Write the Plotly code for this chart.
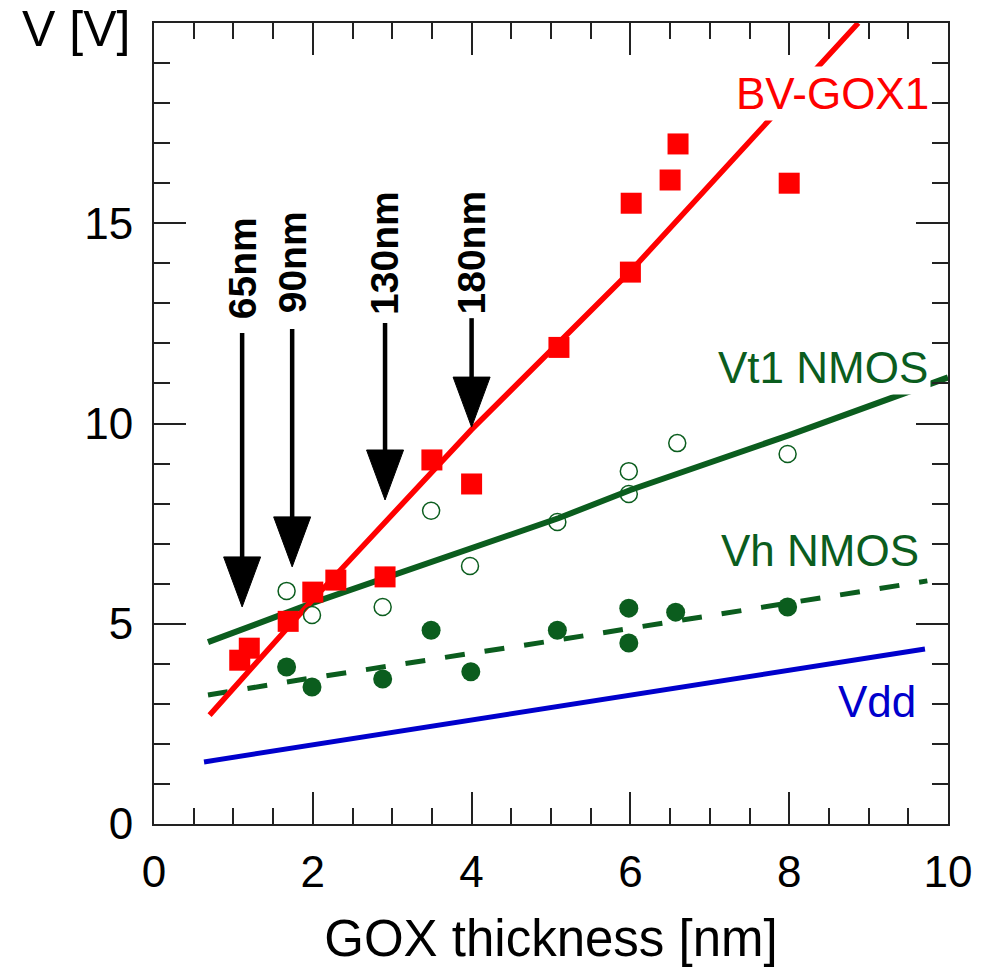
import plotly.graph_objects as go

FONT = "Liberation Sans, Arial, sans-serif"
RED = "#ff0000"
GREEN = "#0b5d1e"
BLUE = "#0000cc"

# ---- data ----
bv_x = [1.08, 1.20, 1.69, 2.00, 2.29, 2.91, 3.50, 4.00, 5.10, 6.00, 6.01, 6.50, 6.60, 8.00]
bv_y = [4.09, 4.39, 5.06, 5.79, 6.09, 6.17, 9.09, 8.49, 11.90, 13.78, 15.50, 16.08, 16.98, 16.00]
bv_fit_x = [0.70, 2.00, 4.00, 6.00, 8.87]
bv_fit_y = [2.72, 5.60, 9.85, 13.80, 20.00]

vt1_x = [1.67, 1.99, 2.88, 3.49, 3.98, 5.08, 5.98, 5.98, 6.59, 7.98]
vt1_y = [5.82, 5.22, 5.42, 7.82, 6.44, 7.54, 8.81, 8.24, 9.51, 9.24]
vt1_fit_x = [0.68, 2.00, 5.10, 6.00, 8.00, 10.00]
vt1_fit_y = [4.54, 5.52, 7.64, 8.34, 9.71, 11.15]

vh_x = [1.67, 1.99, 2.88, 3.49, 3.99, 5.08, 5.98, 5.98, 6.57, 7.98]
vh_y = [3.92, 3.42, 3.62, 4.84, 3.80, 4.84, 5.39, 4.52, 5.29, 5.42]
vh_fit_x = [0.68, 2.00, 5.10, 9.74]
vh_fit_y = [3.22, 3.65, 4.60, 6.07]

vdd_x = [0.63, 9.71]
vdd_y = [1.55, 4.37]

node_labels = ["65nm", "90nm", "130nm", "180nm"]
node_x = [1.11, 1.74, 2.91, 4.00]
node_tip = [5.42, 6.42, 8.09, 9.91]
node_tail = [12.26, 12.36, 12.51, 12.63]
node_text_y = [13.88, 14.03, 14.26, 14.26]

x_ticks = [0, 2, 4, 6, 8, 10]
y_ticks = [0, 5, 10, 15, 20]
y_ticktext = ["0", "5", "10", "15", ""]

# ---- layout geometry ----
W, H = 1007, 969
ML, MR, MT, MB = 154, 59, 23, 145
XR = [0, 10]
YR = [0, 20]
px_x = (XR[1] - XR[0]) / (W - ML - MR)
px_y = (YR[1] - YR[0]) / (H - MT - MB)
HEAD_LEN = 50 * px_y
HEAD_HALF = 18.5 * px_x

fig = go.Figure()

fig.add_trace(go.Scatter(x=vdd_x, y=vdd_y, mode="lines",
                         line=dict(color=BLUE, width=5), hoverinfo="skip"))
fig.add_trace(go.Scatter(x=vh_fit_x, y=vh_fit_y, mode="lines",
                         line=dict(color=GREEN, width=5, dash="20px,20px"), hoverinfo="skip"))
fig.add_trace(go.Scatter(x=vt1_fit_x, y=vt1_fit_y, mode="lines",
                         line=dict(color=GREEN, width=6), hoverinfo="skip"))
fig.add_trace(go.Scatter(x=bv_fit_x, y=bv_fit_y, mode="lines",
                         line=dict(color=RED, width=5.5), hoverinfo="skip"))
fig.add_trace(go.Scatter(x=vh_x, y=vh_y, mode="markers",
                         marker=dict(symbol="circle", size=19, color=GREEN, line=dict(width=0))))
fig.add_trace(go.Scatter(x=vt1_x, y=vt1_y, mode="markers",
                         marker=dict(symbol="circle-open", size=17, color=GREEN, line=dict(width=1.5))))
fig.add_trace(go.Scatter(x=bv_x, y=bv_y, mode="markers",
                         marker=dict(symbol="square", size=21, color=RED, line=dict(width=0))))

# arrows: shaft + filled head
for xv, tip, tail in zip(node_x, node_tip, node_tail):
    fig.add_trace(go.Scatter(x=[xv, xv], y=[tail, tip + HEAD_LEN * 0.9], mode="lines",
                             line=dict(color="black", width=4.5), hoverinfo="skip"))
    fig.add_trace(go.Scatter(x=[xv - HEAD_HALF, xv + HEAD_HALF, xv, xv - HEAD_HALF],
                             y=[tip + HEAD_LEN, tip + HEAD_LEN, tip, tip + HEAD_LEN],
                             mode="lines", fill="toself", fillcolor="black",
                             line=dict(color="black", width=1), hoverinfo="skip"))

annotations = []
for lab, xv, ty in zip(node_labels, node_x, node_text_y):
    annotations.append(dict(x=xv, y=ty, xref="x", yref="y", text="<b>%s</b>" % lab,
                            textangle=-90, showarrow=False, xanchor="center", yanchor="middle",
                            font=dict(family=FONT, size=39, color="black")))

series_labels = [
    ("BV-GOX1", 8.55, 18.23, RED),
    ("Vt1 NMOS", 8.43, 11.41, GREEN),
    ("Vh NMOS", 8.39, 6.82, GREEN),
    ("Vdd", 9.11, 3.07, BLUE),
]
for txt, xv, yv, col in series_labels:
    annotations.append(dict(x=xv, y=yv, xref="x", yref="y", text=txt, showarrow=False,
                            xanchor="center", yanchor="middle", bgcolor="white", borderpad=2,
                            font=dict(family=FONT, size=44, color=col)))

annotations.append(dict(x=-0.098, y=1.0287, xref="paper", yref="paper", text="V [V]",
                        showarrow=False, xanchor="center", yanchor="top", borderpad=0,
                        font=dict(family=FONT, size=50, color="black")))

axis_common = dict(showline=True, linecolor="#222222", linewidth=2, mirror="ticks",
                   ticks="inside", ticklen=32, tickwidth=1.5, tickcolor="#222222",
                   showgrid=False, zeroline=False, automargin=False,
                   tickfont=dict(family=FONT, size=44, color="black"))

fig.update_layout(
    width=W, height=H,
    margin=dict(l=ML, r=MR, t=MT, b=MB),
    paper_bgcolor="white", plot_bgcolor="white",
    showlegend=False,
    annotations=annotations,
    xaxis=dict(range=XR, tickvals=x_ticks, ticklabelstandoff=8,
               minor=dict(dtick=0.5, ticks="inside", ticklen=16, tickcolor="#222222", tickwidth=1.5),
               title=dict(text="GOX thickness [nm]", standoff=26,
                          font=dict(family=FONT, size=51, color="black")),
               **axis_common),
    yaxis=dict(range=YR, tickvals=y_ticks, ticktext=y_ticktext, ticklabelstandoff=10,
               minor=dict(dtick=1, ticks="inside", ticklen=16, tickcolor="#222222", tickwidth=1.5),
               **axis_common),
)

fig.write_html("out.html", config={"displayModeBar": False},
               post_script="document.body.style.margin='0';")
